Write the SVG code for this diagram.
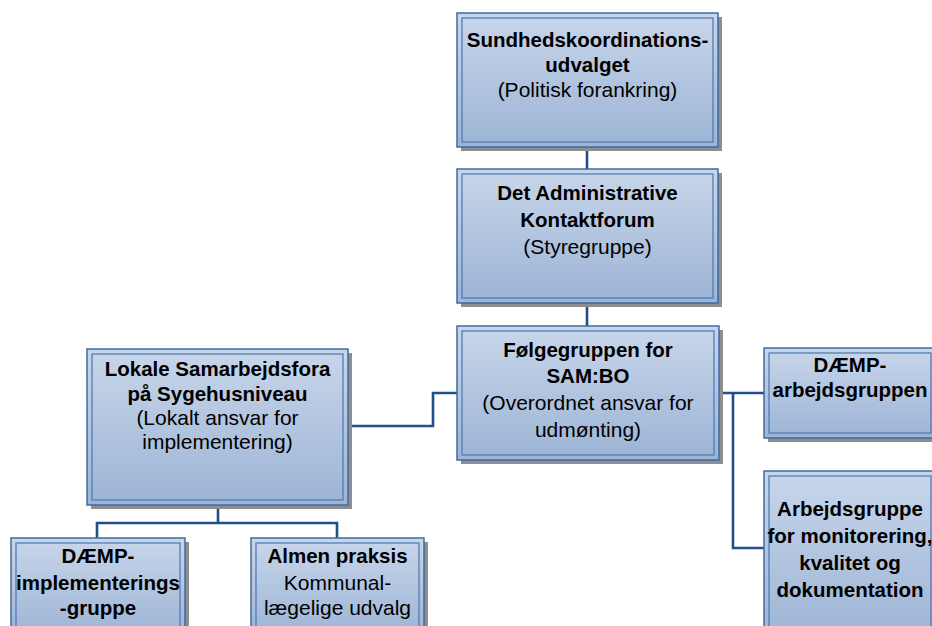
<svg xmlns="http://www.w3.org/2000/svg" width="932" height="626" viewBox="0 0 932 626">
  <defs>
    <linearGradient id="boxFill" x1="0" y1="0" x2="0" y2="1">
      <stop offset="0" stop-color="#c8d6ea"/>
      <stop offset="1" stop-color="#9cb4d5"/>
    </linearGradient>
  </defs>
  <style>
    .shadow { fill: #8e8e8e; }
    .box { fill: url(#boxFill); stroke: #3f6ba4; stroke-width: 1.5; }
    .inner { fill: none; stroke: #4d76ad; stroke-width: 1.2; }
    .link { fill: none; stroke: #234f88; stroke-width: 2.6; stroke-linejoin: miter; }
    text { font-family: "Liberation Sans", Arial, sans-serif; fill: #000; text-anchor: middle; }
    .b { font-weight: bold; font-size: 20.5px; }
    .r { font-size: 21px; }
  </style>

  <rect width="932" height="626" fill="#ffffff"/>

  <!-- connectors -->
  <g id="connectors">
    <path class="link" d="M587 147 V169"/>
    <path class="link" d="M587 303 V326"/>
    <path class="link" d="M457 393 H433 V426 H348"/>
    <path class="link" d="M719 393 H764"/>
    <path class="link" d="M733 393 V548 H764"/>
    <path class="link" d="M218 505 V523"/>
    <path class="link" d="M97 538 V523 H337 V538"/>
  </g>

  <!-- top: political anchoring -->
  <g id="sundhedskoordinationsudvalget">
    <rect class="shadow" x="461" y="17" width="261" height="134"/>
    <rect class="box" x="457" y="13" width="261" height="134"/>
    <rect class="inner" x="462" y="18" width="251" height="124"/>
    <text class="b" x="587.5" y="47">Sundhedskoordinations-</text>
    <text class="b" x="587.5" y="72">udvalget</text>
    <text class="r" x="587.5" y="97">(Politisk forankring)</text>
  </g>

  <g id="kontaktforum">
    <rect class="shadow" x="461" y="173" width="261" height="134"/>
    <rect class="box" x="457" y="169" width="261" height="134"/>
    <rect class="inner" x="462" y="174" width="251" height="124"/>
    <text class="b" x="587.5" y="200">Det Administrative</text>
    <text class="b" x="587.5" y="227">Kontaktforum</text>
    <text class="r" x="587.5" y="254">(Styregruppe)</text>
  </g>

  <g id="foelgegruppen">
    <rect class="shadow" x="461" y="330" width="262" height="134"/>
    <rect class="box" x="457" y="326" width="262" height="134"/>
    <rect class="inner" x="462" y="331" width="252" height="124"/>
    <text class="b" x="588" y="357">Følgegruppen for</text>
    <text class="b" x="588" y="383">SAM:BO</text>
    <text class="r" x="588" y="410">(Overordnet ansvar for</text>
    <text class="r" x="588" y="437">udmønting)</text>
  </g>

  <g id="lokale-samarbejdsfora">
    <rect class="shadow" x="91" y="353" width="261" height="156"/>
    <rect class="box" x="87" y="349" width="261" height="156"/>
    <rect class="inner" x="92" y="354" width="251" height="146"/>
    <text class="b" x="217.5" y="376">Lokale Samarbejdsfora</text>
    <text class="b" x="217.5" y="401">på Sygehusniveau</text>
    <text class="r" x="217.5" y="425">(Lokalt ansvar for</text>
    <text class="r" x="217.5" y="449">implementering)</text>
  </g>

  <g id="daemp-implementering">
    <rect class="shadow" x="15" y="542" width="174" height="100"/>
    <rect class="box" x="11" y="538" width="174" height="100"/>
    <rect class="inner" x="16" y="543" width="164" height="100"/>
    <text class="b" x="98" y="563">DÆMP-</text>
    <text class="b" x="98" y="590">implementerings</text>
    <text class="b" x="98" y="615">-gruppe</text>
  </g>

  <g id="almen-praksis">
    <rect class="shadow" x="255" y="542" width="173" height="100"/>
    <rect class="box" x="251" y="538" width="173" height="100"/>
    <rect class="inner" x="256" y="543" width="163" height="100"/>
    <text class="b" x="337.5" y="563">Almen praksis</text>
    <text class="r" x="337.5" y="590">Kommunal-</text>
    <text class="r" x="337.5" y="615">lægelige udvalg</text>
  </g>

  <g id="daemp-arbejdsgruppen">
    <rect class="shadow" x="768" y="352" width="172" height="90"/>
    <rect class="box" x="764" y="348" width="172" height="90"/>
    <rect class="inner" x="769" y="353" width="162" height="80"/>
    <text class="b" x="850" y="372">DÆMP-</text>
    <text class="b" x="850" y="397">arbejdsgruppen</text>
  </g>

  <g id="arbejdsgruppe-monitorering">
    <rect class="shadow" x="768" y="475" width="172" height="170"/>
    <rect class="box" x="764" y="471" width="172" height="170"/>
    <rect class="inner" x="769" y="476" width="162" height="170"/>
    <text class="b" x="850" y="516">Arbejdsgruppe</text>
    <text class="b" x="850" y="543">for monitorering,</text>
    <text class="b" x="850" y="570">kvalitet og</text>
    <text class="b" x="850" y="597">dokumentation</text>
  </g>
</svg>
